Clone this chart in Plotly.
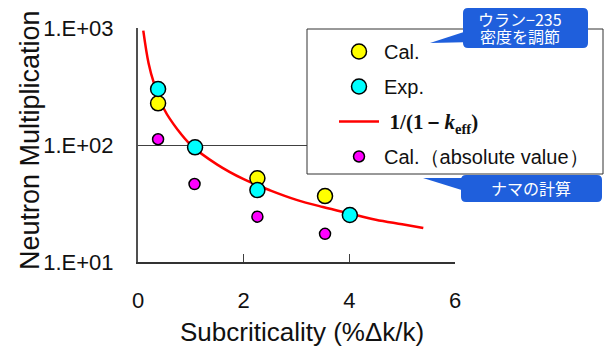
import plotly.graph_objects as go

# ---- data ----
cal_x = [0.38, 2.26, 3.54]
cal_y = [227, 52, 36.6]
exp_x = [0.38, 1.08, 2.26, 4.01]
exp_y = [301, 95.5, 41.2, 25.2]
abs_x = [0.38, 1.07, 2.26, 3.54]
abs_y = [112, 46.4, 24.4, 17.4]
curve_x = [0.1, 0.2, 0.3, 0.5, 0.75, 1.0, 1.5, 2.0, 2.5, 3.0, 3.5, 4.0, 4.5, 5.0, 5.4]
curve_y = [950, 500, 340, 200, 135, 100, 68, 51, 41, 34, 29.5, 26, 23, 21, 19.5]
ytick_vals = [10, 100, 1000]
ytick_text = ["1.E+01", "1.E+02", "1.E+03"]
xtick_vals = [0, 2, 4, 6]

W, H = 612, 360
OFF = 8  # page body offset
# plot area in screenshot pixels: x 138..455, y 28..262
L, T = 138 - OFF, 28 - OFF
PW, PH = 455 - 138, 262 - 28
R = W - L - PW
B = H - T - PH

def px(x):
    return (x - OFF - L) / PW

def py(y):
    return (T + PH - (y - OFF)) / PH

def rrect(x0, y0, x1, y1, r):
    return (f"M {px(x0 + r)} {py(y0)} L {px(x1 - r)} {py(y0)} "
            f"Q {px(x1)} {py(y0)} {px(x1)} {py(y0 + r)} L {px(x1)} {py(y1 - r)} "
            f"Q {px(x1)} {py(y1)} {px(x1 - r)} {py(y1)} L {px(x0 + r)} {py(y1)} "
            f"Q {px(x0)} {py(y1)} {px(x0)} {py(y1 - r)} L {px(x0)} {py(y0 + r)} "
            f"Q {px(x0)} {py(y0)} {px(x0 + r)} {py(y0)} Z")

fig = go.Figure()
fig.add_trace(go.Scatter(x=curve_x, y=curve_y, mode="lines", legendrank=3, legendgroup="c",
                         line=dict(color="#FF0000", width=2.5, shape="spline"),
                         name=" <b><span style='font-family:Liberation Serif;font-size:21px'>1/(1－<i>k</i><sub>eff</sub>)</span></b>"))
fig.add_trace(go.Scatter(x=cal_x, y=cal_y, mode="markers", name="Cal.", legendrank=1, legendgroup="a",
                         marker=dict(color="#FFFF00", size=15, line=dict(color="black", width=1.5))))
fig.add_trace(go.Scatter(x=exp_x, y=exp_y, mode="markers", name="Exp.", legendrank=2, legendgroup="b",
                         marker=dict(color="#00FFFF", size=15, line=dict(color="black", width=1.5))))
fig.add_trace(go.Scatter(x=abs_x, y=abs_y, mode="markers", name="Cal.（absolute value）", legendrank=4,
                         legendgroup="d",
                         marker=dict(color="#FF00FF", size=11, line=dict(color="black", width=1.5))))

fig.update_layout(
    width=W, height=H,
    margin=dict(l=L, r=R, t=T, b=B, autoexpand=False),
    plot_bgcolor="white", paper_bgcolor="white",
    font=dict(family="Liberation Sans, Arial", color="#111111"),
    legend=dict(x=px(334), y=py(32), xanchor="left", yanchor="top",
                bgcolor="rgba(0,0,0,0)", borderwidth=0,
                font=dict(size=20, color="#111111"), traceorder="grouped",
                itemsizing="trace", itemwidth=40, tracegroupgap=6),
    showlegend=True,
)
fig.update_xaxes(range=[0, 6], tickvals=xtick_vals, ticks="inside", ticklen=8, tickcolor="#404040",
                 showline=True, linecolor="#333333", linewidth=1.5, showgrid=False, zeroline=False,
                 automargin=False, ticklabelstandoff=18,
                 tickfont=dict(size=22))
fig.update_yaxes(type="log", range=[1, 3], tickvals=ytick_vals, ticktext=ytick_text, ticks="",
                 showline=True, linecolor="#505050", linewidth=2, showgrid=True, gridcolor="#404040", gridwidth=1,
                 automargin=False, ticklabelstandoff=18,
                 tickfont=dict(size=22))

# axis titles
fig.add_annotation(xref="paper", yref="paper", x=px(302), y=py(332), xanchor="center", yanchor="middle",
                   text="Subcriticality (%Δk/k)", showarrow=False, font=dict(size=26))
fig.add_annotation(xref="paper", yref="paper", x=px(30), y=py(140), xanchor="center", yanchor="middle",
                   text="Neutron Multiplication", showarrow=False, textangle=-90, font=dict(size=27))

# legend box
fig.add_shape(type="rect", xref="paper", yref="paper", x0=px(307), x1=px(603), y0=py(174), y1=py(29),
              fillcolor="white", line=dict(color="#333333", width=1), layer="above")

blue = "#1F5FDC"
cjk = "Noto Sans CJK JP, sans-serif"
# callout 1
fig.add_shape(type="path", xref="paper", yref="paper",
              path=f"M {px(470)} {py(30)} L {px(430)} {py(43)} L {px(475)} {py(42)} Z",
              fillcolor=blue, line=dict(width=0), layer="above")
fig.add_shape(type="path", xref="paper", yref="paper", path=rrect(463, 8, 588, 48, 5),
              fillcolor=blue, line=dict(width=0), layer="above")
fig.add_annotation(xref="paper", yref="paper", x=px(520), y=py(19.5), xanchor="center", yanchor="middle",
                   borderpad=0, text="ウラン−235", showarrow=False, font=dict(size=16, color="white", family=cjk))
fig.add_annotation(xref="paper", yref="paper", x=px(520), y=py(35.5), xanchor="center", yanchor="middle",
                   borderpad=0, text="密度を調節", showarrow=False, font=dict(size=16, color="white", family=cjk))
# callout 2
fig.add_shape(type="path", xref="paper", yref="paper",
              path=f"M {px(468)} {py(178)} L {px(423)} {py(178)} L {px(468)} {py(192)} Z",
              fillcolor=blue, line=dict(width=0), layer="above")
fig.add_shape(type="path", xref="paper", yref="paper", path=rrect(461, 175, 602, 202, 5),
              fillcolor=blue, line=dict(width=0), layer="above")
fig.add_annotation(xref="paper", yref="paper", x=px(530.5), y=py(188), xanchor="center", yanchor="middle",
                   text="ナマの計算", showarrow=False, font=dict(size=16, color="white", family=cjk))

fig.write_html("out.html")
